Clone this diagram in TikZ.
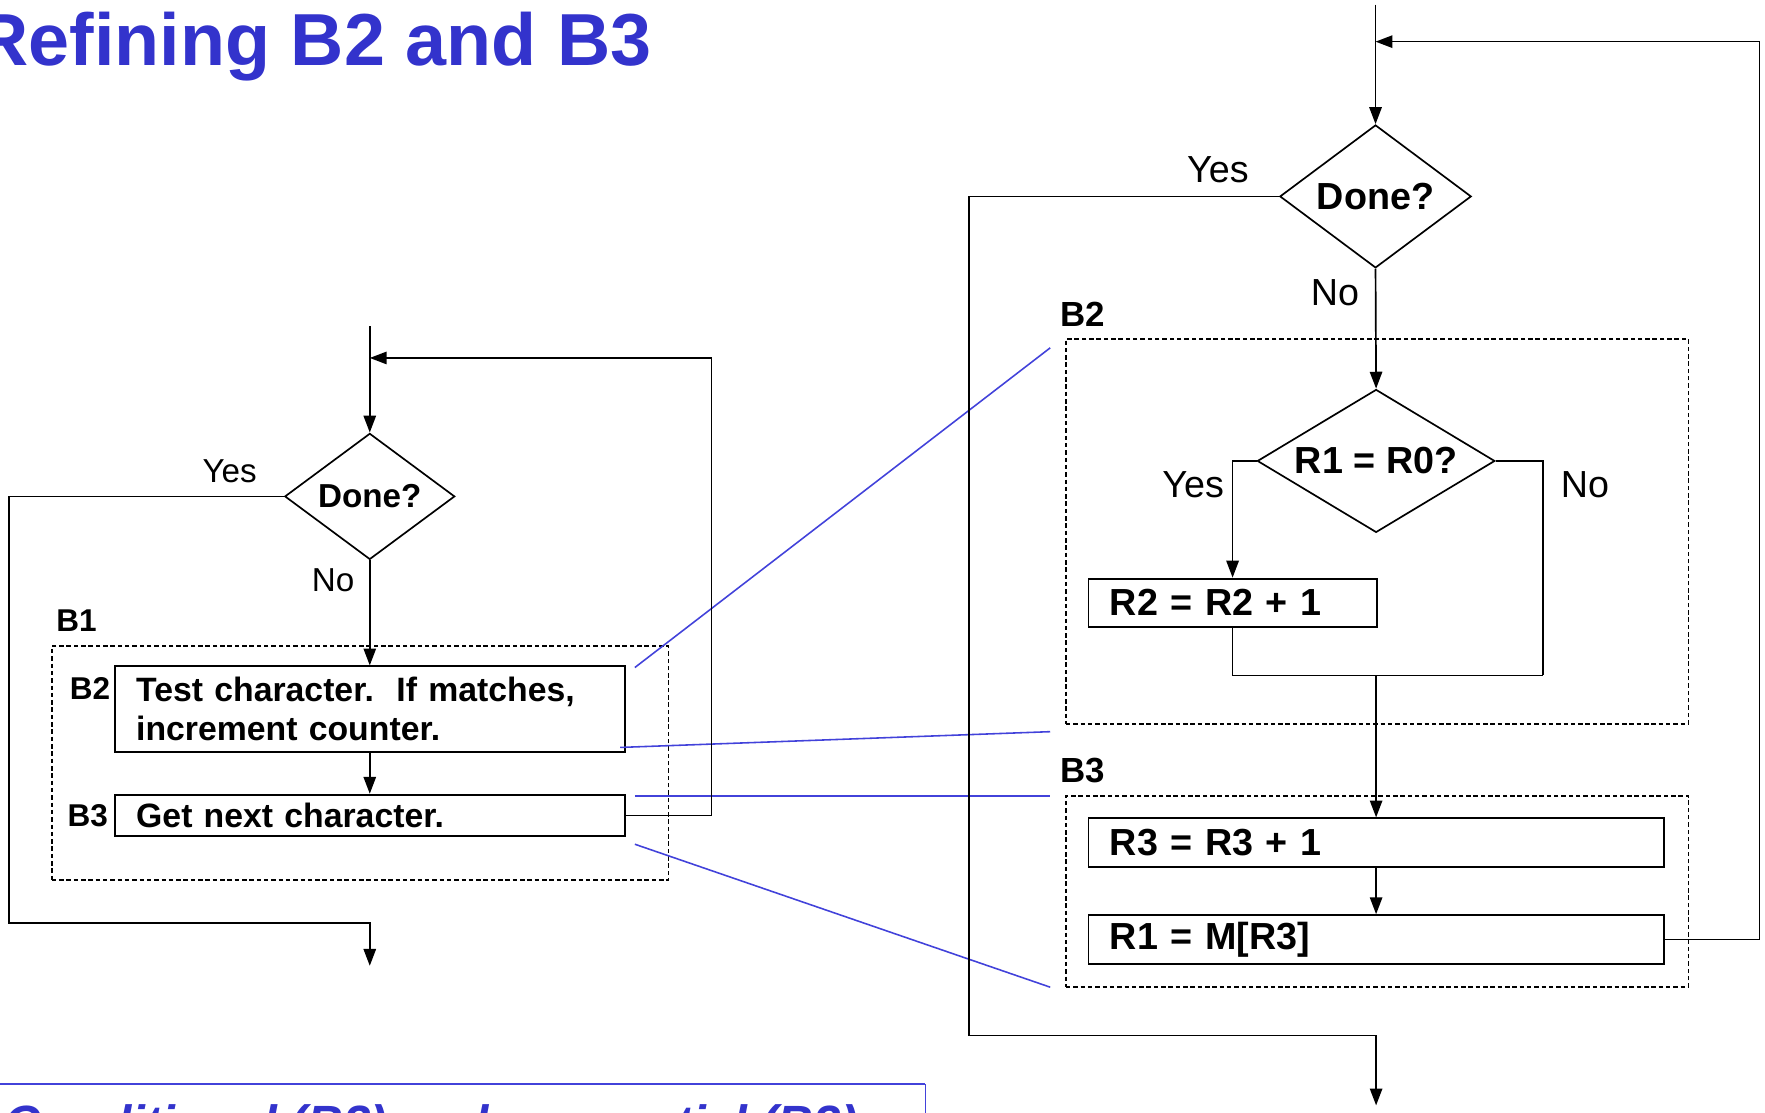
\documentclass[tikz,border=0pt]{standalone}
\usepackage{fontspec}
\setmainfont{Liberation Sans}
\usetikzlibrary{shapes.geometric,arrows.meta}
\definecolor{titleblue}{RGB}{51,51,204}
\definecolor{linkblue}{RGB}{66,66,218}
\begin{document}
\begin{tikzpicture}[x=1pt,y=-1pt,
  conn/.style={draw=black, line width=1.5pt},
  arr/.style={conn, -{Triangle[length=15pt,width=11pt]}},
  procbox/.style={draw, line width=1.7pt, rectangle, inner xsep=19pt, inner ysep=0pt, align=left},
  decision/.style={draw, diamond, line width=1.5pt, inner sep=0pt},
  groupbox/.style={draw, dash pattern=on 4pt off 2.5pt, line width=1.4pt, rectangle, inner sep=0pt},
  link/.style={draw=linkblue, line width=1.4pt},
  lbl/.style={inner sep=0pt, anchor=base},
  fL/.style={font=\fontsize{29.5}{34}\selectfont},
  fLb/.style={font=\fontsize{29.5}{34}\selectfont\bfseries},
  fBox/.style={font=\fontsize{30}{35}\selectfont\bfseries},
  fR/.style={font=\fontsize{33.5}{38}\selectfont},
  fRb/.style={font=\fontsize{33.5}{38}\selectfont\bfseries},
  fTag/.style={font=\fontsize{28}{32}\selectfont\bfseries},
  fTagR/.style={font=\fontsize{31}{35}\selectfont\bfseries},
]
\useasboundingbox (0,0) rectangle (1568,988);

% title
\node[anchor=base west, inner sep=0pt, text=titleblue, font=\fontsize{65.5}{70}\selectfont\bfseries] (title) at (-22,58) {Refining B2 and B3};

% ---------- left flowchart ----------
\node[groupbox, minimum width=548pt, minimum height=208pt] (LG1) at (320,678) {};
\node[decision, fLb, aspect=1.35, minimum width=151pt, minimum height=112pt] (LD) at (328.5,441) {Done?};
\node[procbox, fBox, text width=415pt, minimum height=76pt] (LB2) at (328.5,630) {Test character.\ \ If matches,\\increment counter.};
\node[procbox, fBox, text width=415pt, minimum height=37pt] (LB3) at (328.5,724.5) {Get next character.};

\node[lbl, fL] (LYes) at (204,428.5) {Yes};
\node[lbl, fL] (LNo) at (296,525.5) {No};
\node[lbl, fTag] (LtB1) at (68,561) {B1};
\node[lbl, fTag] (LtB2) at (80,621) {B2};
\node[lbl, fTag] (LtB3) at (78,734) {B3};

\coordinate (Lin) at (328.5,290);
\coordinate (Ljoin) at (328.5,318);
\coordinate (Lloop) at (632,318);
\coordinate (Lyc) at (8,820);
\coordinate (Lout) at (328.5,858);

% ---------- right flowchart ----------
\node[groupbox, minimum width=553pt, minimum height=342pt] (RG2) at (1223.5,472) {};
\node[groupbox, minimum width=553pt, minimum height=170pt] (RG3) at (1223.5,792) {};
\node[decision, fRb, aspect=1.34, minimum width=170pt, minimum height=127pt] (RD) at (1222,174.5) {Done?};
\node[decision, fRb, aspect=1.66, minimum width=211pt, minimum height=127pt] (RQ) at (1222.5,409.5) {R1 = R0?};
\node[procbox, fRb, text width=218pt, minimum height=43pt] (RB2) at (1095,535.5) {R2 = R2 + 1};
\node[procbox, fRb, text width=473pt, minimum height=43pt] (RR3) at (1222.5,748.5) {R3 = R3 + 1};
\node[procbox, fRb, text width=473pt, minimum height=43pt] (RR1) at (1222.5,834.5) {R1 = M[R3]};

\node[lbl, fR] (RYes) at (1082,162) {Yes};
\node[lbl, fR] (RNo) at (1186,271) {No};
\node[lbl, fTagR] (RtB2) at (962,290) {B2};
\node[lbl, fR] (RQYes) at (1060,442) {Yes};
\node[lbl, fR] (RQNo) at (1408,442) {No};
\node[lbl, fTagR] (RtB3) at (962,695) {B3};

\coordinate (Rin) at (1222,4);
\coordinate (Rjoin) at (1222,37);
\coordinate (Rloop) at (1563,37);
\coordinate (Ryc) at (861,920);
\coordinate (Rout) at (1222.5,982);
\coordinate (Rmerge) at (1371,600);
\coordinate (Rmid) at (1222.5,600);

% ---------- blue links ----------
\coordinate (k1a) at (564,593);
\coordinate (k1b) at (933,309);
\coordinate (k2a) at (551,664);
\coordinate (k2b) at (933,650);
\coordinate (k3a) at (564,707);
\coordinate (k3b) at (933,707);
\coordinate (k4a) at (564,750);
\coordinate (k4b) at (933,877);
\draw[link] (k1a) -- (k1b);
\draw[link] (k2a) -- (k2b);
\draw[link] (k3a) -- (k3b);
\draw[link] (k4a) -- (k4b);

% ---------- left connectors ----------
\draw[conn] (Lin) -- (Ljoin);
\draw[arr] (Ljoin) -- (LD.north);
\draw[arr] (LB3.east) -| (Lloop) -- (Ljoin);
\draw[arr] (LD.west) -| (Lyc) -| (Lout);
\draw[arr] (LD.south) -- (LB2.north);
\draw[arr] (LB2.south) -- (LB3.north);

% ---------- right connectors ----------
\draw[conn] (Rin) -- (Rjoin);
\draw[arr] (Rjoin) -- (RD.north);
\draw[arr] (RR1.east) -| (Rloop) -- (Rjoin);
\draw[arr] (RD.west) -| (Ryc) -| (Rout);
\draw[arr] (RD.south) -- (RQ.north);
\draw[arr] (RQ.west) -| (RB2.north);
\draw[conn] (RQ.east) -| (Rmerge);
\draw[conn] (RB2.south) |- (Rmerge);
\draw[arr] (Rmid) -- (RR3.north);
\draw[arr] (RR3.south) -- (RR1.north);

% ---------- bottom caption box ----------
\draw[draw=linkblue, line width=2pt] (0,963) -- (822,963);
\draw[draw=linkblue, line width=1pt] (822,963) -- (822,995);
\node[anchor=base west, inner sep=0pt, text=titleblue, font=\fontsize{44}{48}\selectfont\bfseries\itshape] (caption) at (4,1013) {Conditional (B2) and sequential (B3)};
\end{tikzpicture}
\end{document}
